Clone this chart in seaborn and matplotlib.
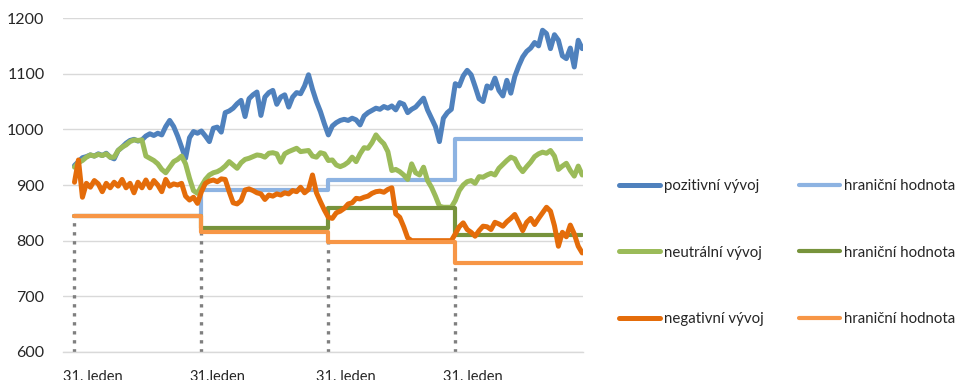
import numpy as np
import pandas as pd
import matplotlib
matplotlib.use("Agg")
import matplotlib.pyplot as plt
import seaborn as sns

# ---------------- data ----------------
day = np.arange(129)

pozitivni = [935, 942, 949, 951, 954, 952, 956, 953, 957, 950,
             947, 962, 968, 975, 980, 982, 979, 981, 988, 992,
             989, 993, 990, 1005, 1016, 1005, 988, 968, 948, 985,
             996, 993, 997, 988, 978, 1002, 1004, 995, 1030, 1033,
             1038, 1046, 1052, 1023, 1055, 1062, 1067, 1025, 1058, 1066,
             1070, 1045, 1058, 1062, 1040, 1058, 1066, 1064, 1078, 1098,
             1072, 1050, 1032, 1010, 990, 1006, 1012, 1016, 1018, 1016,
             1020, 1017, 1008, 1024, 1030, 1034, 1038, 1036, 1041, 1038,
             1042, 1035, 1048, 1045, 1030, 1036, 1040, 1048, 1056, 1035,
             1020, 1005, 978, 1020, 1030, 1036, 1082, 1078, 1096, 1106,
             1098, 1077, 1055, 1050, 1078, 1074, 1092, 1070, 1060, 1088,
             1065, 1095, 1114, 1130, 1140, 1146, 1156, 1150, 1178, 1172,
             1145, 1170, 1160, 1132, 1127, 1146, 1112, 1160, 1145]

neutralni = [932, 940, 944, 950, 954, 952, 955, 953, 956, 950,
             950, 962, 968, 972, 978, 981, 980, 981, 952, 948,
             944, 938, 928, 922, 932, 942, 946, 952, 938, 912,
             890, 885, 898, 910, 918, 922, 924, 928, 934, 942,
             936, 930, 940, 946, 948, 951, 954, 953, 950, 957,
             958, 956, 941, 956, 960, 963, 966, 960, 961, 962,
             952, 950, 958, 956, 944, 945, 936, 933, 936, 941,
             950, 942, 956, 967, 966, 976, 990, 981, 974, 960,
             926, 928, 924, 918, 910, 938, 922, 918, 932, 908,
             896, 880, 862, 860, 860, 860, 872, 890, 900, 906,
             908, 903, 915, 914, 918, 921, 918, 930, 937, 944,
             950, 947, 933, 924, 933, 941, 951, 956, 959, 957,
             962, 952, 928, 934, 939, 926, 916, 934, 918]

negativni = [905, 945, 878, 903, 896, 908, 902, 888, 903, 895,
             905, 898, 910, 895, 903, 886, 905, 895, 909, 895,
             908, 900, 888, 910, 898, 902, 900, 903, 880, 873,
             878, 867, 888, 903, 907, 909, 906, 911, 910, 888,
             868, 866, 872, 891, 893, 890, 886, 884, 874, 882,
             880, 884, 882, 886, 884, 890, 888, 896, 886, 892,
             918, 886, 870, 855, 842, 840, 850, 853, 858, 866,
             868, 876, 875, 878, 880, 885, 888, 889, 887, 892,
             895, 848, 842, 825, 805, 800, 800, 800, 800, 800,
             800, 800, 800, 800, 800, 800, 812, 825, 832, 820,
             815, 808, 818, 826, 825, 820, 833, 830, 826, 834,
             840, 847, 833, 818, 833, 840, 829, 840, 850, 860,
             853, 827, 790, 815, 807, 828, 812, 790, 778]

period_start = [0, 32, 64, 96]
hranice_poz = [845, 891, 909, 982]
hranice_neu = [845, 823, 859, 810]
hranice_neg = [845, 816, 798, 759]

date_labels = ["31. leden", "31.leden", "31. leden", "31. leden"]
y_ticks = [600, 700, 800, 900, 1000, 1100, 1200]

series_names = ["pozitivní vývoj", "hraniční hodnota", "neutrální vývoj",
                "hraniční hodnota", "negativní vývoj", "hraniční hodnota"]


def per_day(values):
    counts = np.diff(period_start + [len(day)])
    return np.repeat(values, counts)


# ---------------- style ----------------
sns.set_theme(style="white")
plt.rcParams["font.family"] = ["Lato", "DejaVu Sans"]
text_color = "#262626"
grid_color = "#d9d9d9"

fig = plt.figure(figsize=(9.63, 3.8), dpi=100)
ax = fig.add_axes([0.065, 0.0737, 0.6054 - 0.065, 0.9526 - 0.0737])

# drop lines (dotted) at period starts
ax.vlines(period_start, y_ticks[0], hranice_neg, colors="#7f7f7f",
          linestyles=(0, (1, 1.7)), linewidth=2.4, zorder=1)

specs = [
    (pozitivni, "#4F81BD", 3.6, None),
    (per_day(hranice_poz), "#8DB3E2", 3.0, "steps-post"),
    (neutralni, "#9BBB59", 3.6, None),
    (per_day(hranice_neu), "#77933C", 3.0, "steps-post"),
    (negativni, "#E46C0A", 3.6, None),
    (per_day(hranice_neg), "#F79646", 3.0, "steps-post"),
]
for k, (vals, col, lw, ds) in enumerate(specs):
    kw = {}
    if ds:
        kw["drawstyle"] = ds
    sns.lineplot(x=day, y=np.asarray(vals, dtype=float), ax=ax, color=col,
                 linewidth=lw, label=series_names[k], estimator=None,
                 zorder=2 + k, solid_joinstyle="round", **kw)

ax.set_ylim(600, 1200)
ax.set_xlim(-0.6, 128.2)
ax.set_yticks(y_ticks)
ax.set_yticklabels([str(v) for v in y_ticks])
ax.yaxis.grid(True, color=grid_color, linewidth=1.0)
ax.set_axisbelow(True)
for s in ["left", "right", "top"]:
    ax.spines[s].set_visible(False)
ax.spines["bottom"].set_color(grid_color)
ax.spines["bottom"].set_linewidth(1.0)
ax.tick_params(axis="y", length=0, pad=13, labelsize=11.5, labelcolor=text_color)
ax.tick_params(axis="x", length=0, pad=13, labelsize=10.5, labelcolor=text_color)
ax.set_xticks(np.array(period_start) - 3.0)
ax.set_xticklabels(date_labels, ha="left")
ax.set_xlabel("")
ax.set_ylabel("")

handles, labels = ax.get_legend_handles_labels()
order = [0, 2, 4, 1, 3, 5]
ax.legend([handles[i] for i in order], [labels[i] for i in order],
          ncol=2, loc="center left", bbox_to_anchor=(611 / 963, 0.335),
          bbox_transform=fig.transFigure, frameon=False, borderpad=0,
          handlelength=2.75, handletextpad=0.3, labelspacing=3.5,
          columnspacing=2.3, fontsize=10.8, labelcolor=text_color)

fig.savefig("out.png", dpi=100)
